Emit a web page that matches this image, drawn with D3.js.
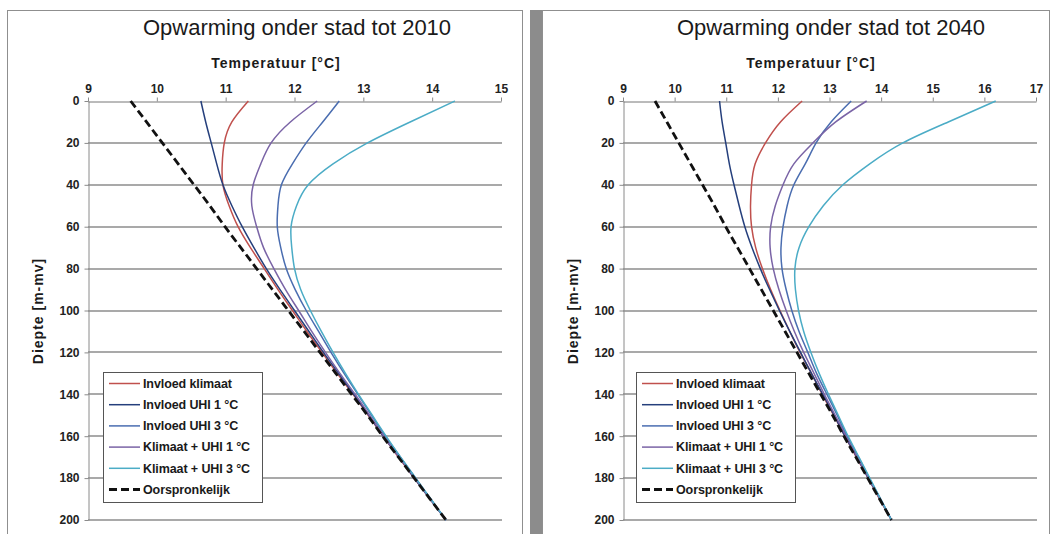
<!DOCTYPE html>
<html><head><meta charset="utf-8">
<script src="https://cdn.jsdelivr.net/npm/d3@7"></script>
<style>body{margin:0;background:#fff;} svg{display:block;font-family:"Liberation Sans",Arial,sans-serif;}</style>
</head><body><svg id="c" width="1054" height="534"></svg>
<script>
// ---- data ----
const depths = [0,10,20,30,40,50,60,70,80,90,100,110,120,130,140,150,160,170,180,190,200];
const depthTicks = [0,20,40,60,80,100,120,140,160,180,200];
const tempTicks2010 = [9,10,11,12,13,14,15];
const tempTicks2040 = [9,10,11,12,13,14,15,16,17];
const seriesNames = ["Invloed klimaat","Invloed UHI 1 °C","Invloed UHI 3 °C","Klimaat + UHI 1 °C","Klimaat + UHI 3 °C","Oorspronkelijk"];
const titles = ["Opwarming onder stad tot 2010","Opwarming onder stad tot 2040"];
const xTitle = "Temperatuur [°C]";
const yTitle = "Diepte [m-mv]";

// 2010
const klimaat2010   = [11.33,11.09,10.98,10.95,10.96,11.05,11.18,11.36,11.56,11.76,11.97,12.18,12.40,12.62,12.85,13.07,13.29,13.51,13.74,13.97,14.20];
const uhi1_2010     = [10.64,10.71,10.79,10.87,10.96,11.09,11.24,11.41,11.59,11.79,12.00,12.21,12.42,12.64,12.86,13.08,13.29,13.52,13.74,13.97,14.20];
const uhi3_2010     = [12.65,12.41,12.17,11.97,11.81,11.76,11.75,11.80,11.88,12.01,12.17,12.35,12.53,12.72,12.92,13.12,13.32,13.54,13.76,13.98,14.20];
const klimUhi1_2010 = [12.33,11.94,11.66,11.51,11.40,11.38,11.45,11.55,11.70,11.87,12.06,12.25,12.45,12.66,12.88,13.09,13.30,13.52,13.75,13.97,14.20];
const klimUhi3_2010 = [14.33,13.68,13.06,12.56,12.20,12.03,11.95,11.96,12.00,12.09,12.23,12.39,12.56,12.74,12.93,13.13,13.33,13.54,13.76,13.98,14.20];
const orig2010      = [9.62,9.85,10.08,10.31,10.54,10.77,10.99,11.22,11.45,11.68,11.91,12.14,12.37,12.60,12.83,13.06,13.28,13.51,13.74,13.97,14.20];

// 2040
const klimaat2040   = [12.47,12.05,11.76,11.56,11.49,11.47,11.49,11.57,11.70,11.86,12.04,12.23,12.43,12.65,12.86,13.08,13.30,13.52,13.75,13.97,14.20];
const uhi1_2040     = [10.87,10.92,10.99,11.06,11.15,11.25,11.36,11.50,11.66,11.84,12.03,12.23,12.44,12.65,12.87,13.09,13.30,13.53,13.75,13.98,14.20];
const uhi3_2040     = [13.42,13.03,12.74,12.53,12.31,12.18,12.10,12.06,12.08,12.16,12.27,12.41,12.58,12.75,12.95,13.15,13.34,13.56,13.77,13.99,14.20];
const klimUhi1_2040 = [13.72,13.12,12.68,12.31,12.10,11.95,11.86,11.85,11.91,12.02,12.16,12.32,12.50,12.70,12.90,13.11,13.32,13.54,13.76,13.98,14.20];
const klimUhi3_2040 = [16.22,15.30,14.42,13.78,13.26,12.88,12.60,12.41,12.33,12.34,12.40,12.50,12.64,12.80,12.98,13.17,13.36,13.57,13.78,13.99,14.20];
const orig2040      = [9.62,9.85,10.08,10.31,10.54,10.77,10.99,11.22,11.45,11.68,11.91,12.14,12.37,12.60,12.83,13.06,13.28,13.51,13.74,13.97,14.20];

// ---- styles ----
const colors = ["#c0504d","#253f7c","#4a6db0","#7a64a6","#4bacc6","#111111"];

const svg = d3.select("#c");
svg.append("rect").attr("width",1054).attr("height",534).attr("fill","#fff");

function panel(p){
  const g = svg.append("g");
  g.append("rect").attr("x",p.bx+0.5).attr("y",10.5).attr("width",p.bw).attr("height",600)
    .attr("fill","#fff").attr("stroke","#8f8f8f").attr("stroke-width",1);
  const x = d3.scaleLinear().domain([p.ticks[0],p.ticks[p.ticks.length-1]]).range([p.x0,p.x1]);
  const y = d3.scaleLinear().domain([0,200]).range([101,520]);

  // gridlines
  g.append("g").selectAll("line").data(depthTicks.slice(1)).join("line")
    .attr("x1",p.x0).attr("x2",p.x1+1)
    .attr("y1",d=>Math.round(y(d))).attr("y2",d=>Math.round(y(d)))
    .attr("stroke","#a9a9a9").attr("stroke-width",2);

  // y axis
  const ya = g.append("g").attr("transform",`translate(${p.x0+0.5},0)`)
    .call(d3.axisLeft(y).tickValues(depthTicks).tickFormat(d3.format("d")).tickSize(4).tickSizeOuter(0).tickPadding(5));
  ya.select(".domain").attr("stroke","#8a8a8a");
  ya.selectAll(".tick line").attr("stroke","#8a8a8a");
  ya.selectAll("text").attr("font-size",12).attr("font-weight","bold").attr("fill","#222")
    .attr("font-family","Liberation Sans, Arial, sans-serif");

  // x axis (top)
  const xa = g.append("g").attr("transform",`translate(0,${101.5})`)
    .call(d3.axisTop(x).tickValues(p.ticks).tickFormat(d3.format("d")).tickSize(4).tickSizeOuter(0).tickPadding(5));
  xa.select(".domain").attr("stroke","#777");
  xa.selectAll(".tick line").attr("stroke","#8a8a8a");
  xa.selectAll("text").attr("font-size",12).attr("font-weight","bold").attr("fill","#222")
    .attr("font-family","Liberation Sans, Arial, sans-serif");

  // curves
  const line = d3.line().x(d=>x(d[1])).y(d=>y(d[0])).curve(d3.curveNatural);
  p.series.forEach((s,i)=>{
    const pts = depths.map((d,k)=>[d,s[k]]);
    const path = g.append("path").attr("d",line(pts)).attr("fill","none")
      .attr("stroke",colors[i]);
    if(i===5){ path.attr("stroke-width",2.8).attr("stroke-dasharray","8,4"); }
    else path.attr("stroke-width",1.5);
  });

  // titles
  g.append("text").attr("x",p.tx).attr("y",35).attr("text-anchor","middle")
    .attr("font-size",22).attr("fill","#1a1a1a").text(p.title);
  g.append("text").attr("x",p.ax).attr("y",68).attr("text-anchor","middle")
    .attr("font-size",14).attr("font-weight","bold").attr("letter-spacing",1).attr("fill","#1a1a1a").text(xTitle);
  g.append("text").attr("transform",`translate(${p.yx},311) rotate(-90)`).attr("text-anchor","middle")
    .attr("font-size",14).attr("font-weight","bold").attr("letter-spacing",1).attr("fill","#1a1a1a").text(yTitle);

  // legend
  const lg = g.append("g").attr("transform",`translate(${p.lx},372)`);
  lg.append("rect").attr("x",0.5).attr("y",0.5).attr("width",159).attr("height",130)
    .attr("fill","#fff").attr("stroke","#555");
  seriesNames.forEach((n,i)=>{
    const yy = 11.5 + i*21.2;
    const l = lg.append("line").attr("x1",6).attr("x2",37).attr("y1",yy).attr("y2",yy).attr("stroke",colors[i]);
    if(i===5) l.attr("stroke-width",2.8).attr("stroke-dasharray","8,4");
    else l.attr("stroke-width",1.5);
    lg.append("text").attr("x",40).attr("y",yy).attr("dy","0.35em").attr("font-size",12.5)
      .attr("font-weight","bold").attr("letter-spacing",-0.1).attr("fill","#1a1a1a").text(n);
  });
}

panel({bx:7,bw:515,x0:88,x1:501,ticks:tempTicks2010,tx:297,ax:276,yx:43,lx:103,title:titles[0],
  series:[klimaat2010,uhi1_2010,uhi3_2010,klimUhi1_2010,klimUhi3_2010,orig2010]});
panel({bx:542,bw:507,x0:623,x1:1036,ticks:tempTicks2040,tx:831,ax:811,yx:578,lx:636,title:titles[1],
  series:[klimaat2040,uhi1_2040,uhi3_2040,klimUhi1_2040,klimUhi3_2040,orig2040]});
// separator band between the two charts
svg.append("rect").attr("x",530).attr("y",10).attr("width",12).attr("height",530).attr("fill","#8c8c8c");
</script></body></html>
